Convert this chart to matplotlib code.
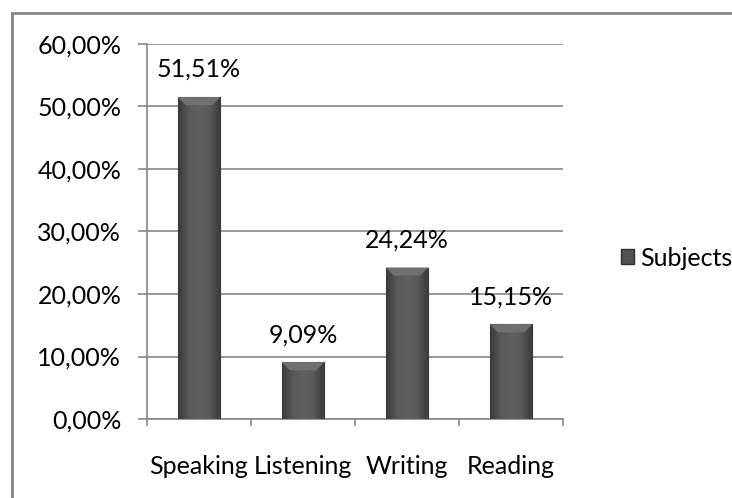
import matplotlib
matplotlib.use("Agg")
import matplotlib.pyplot as plt
import numpy as np
from matplotlib.lines import Line2D
from matplotlib.patches import Rectangle, Polygon
from matplotlib.colors import LinearSegmentedColormap

categories = ["Speaking", "Listening", "Writing", "Reading"]
values = [51.51, 9.09, 24.24, 15.15]
labels = ["51,51%", "9,09%", "24,24%", "15,15%"]
yticks = [0, 10, 20, 30, 40, 50, 60]
ytick_labels = ["0,00%", "10,00%", "20,00%", "30,00%", "40,00%", "50,00%", "60,00%"]

AXIS = "#868686"
BAR = "#525252"
FS = 18
plt.rcParams["font.family"] = ["Lato", "DejaVu Sans"]

fig = plt.figure(figsize=(7.32, 4.98), dpi=100)
fig.patch.set_facecolor("white")
# chart frame (only top and left edges are inside the picture)
fig.add_artist(Line2D([12 / 732, 1], [1 - 13 / 498] * 2, color=AXIS, lw=2))
fig.add_artist(Line2D([12 / 732] * 2, [0, 1 - 13 / 498], color=AXIS, lw=2))

ax = fig.add_axes([147 / 732, 1 - 419 / 498, 416 / 732, 375 / 498])
x = np.arange(len(categories))
width = 0.41
bars = ax.bar(x, values, width=width, color=BAR, edgecolor="#2e2e2e",
              lw=0.8, zorder=3)

# bevelled shading on each bar
cmap = LinearSegmentedColormap.from_list(
    "bev", ["#3a3a3a", "#585858", "#626262", "#585858", "#3a3a3a"])
grad = np.linspace(0, 1, 64).reshape(1, -1)
bx, by = 0.08, 1.3
for b in bars:
    x0, w, h = b.get_x(), b.get_width(), b.get_height()
    im = ax.imshow(grad, cmap=cmap, aspect="auto", extent=(x0, x0 + w, 0, h),
                   zorder=3.5)
    im.set_clip_path(b)
    ax.add_patch(Polygon([(x0, h), (x0 + w, h), (x0 + w - bx, h - by), (x0 + bx, h - by)],
                         closed=True, facecolor="#707070", edgecolor="none", zorder=3.6))

for xi, v, lab in zip(x, values, labels):
    ax.text(xi, v + 4.4, lab, ha="center", va="center", fontsize=FS, color="black")

ax.set_xlim(-0.5, 3.5)
ax.set_ylim(0, 60)
ax.set_yticks(yticks)
ax.set_yticklabels(ytick_labels, fontsize=FS)
ax.set_xticks([-0.5, 0.5, 1.5, 2.5, 3.5])
ax.set_xticklabels([])
ax.set_xticks(x, minor=True)
ax.set_xticklabels(categories, minor=True, fontsize=FS)
ax.tick_params(axis="x", which="minor", length=0, pad=26)
ax.tick_params(axis="x", which="major", length=5, width=1.2, color=AXIS, direction="out")
ax.tick_params(axis="y", length=6.5, width=1.2, color=AXIS, pad=12)
ax.grid(axis="y", color=AXIS, lw=1.2, zorder=0)
for s in ("top", "right"):
    ax.spines[s].set_visible(False)
for s in ("left", "bottom"):
    ax.spines[s].set_color(AXIS)
    ax.spines[s].set_linewidth(1.2)

handle = Rectangle((0, 0), 1, 1, facecolor=BAR, edgecolor="#2e2e2e")
fig.legend([handle], ["Subjects"], loc="center left",
           bbox_to_anchor=(598 / 732, 1 - 258 / 498),
           frameon=False, fontsize=FS, handlelength=0.55, handleheight=0.55,
           handletextpad=0.25)

fig.savefig("out.png", dpi=100, facecolor="white")
